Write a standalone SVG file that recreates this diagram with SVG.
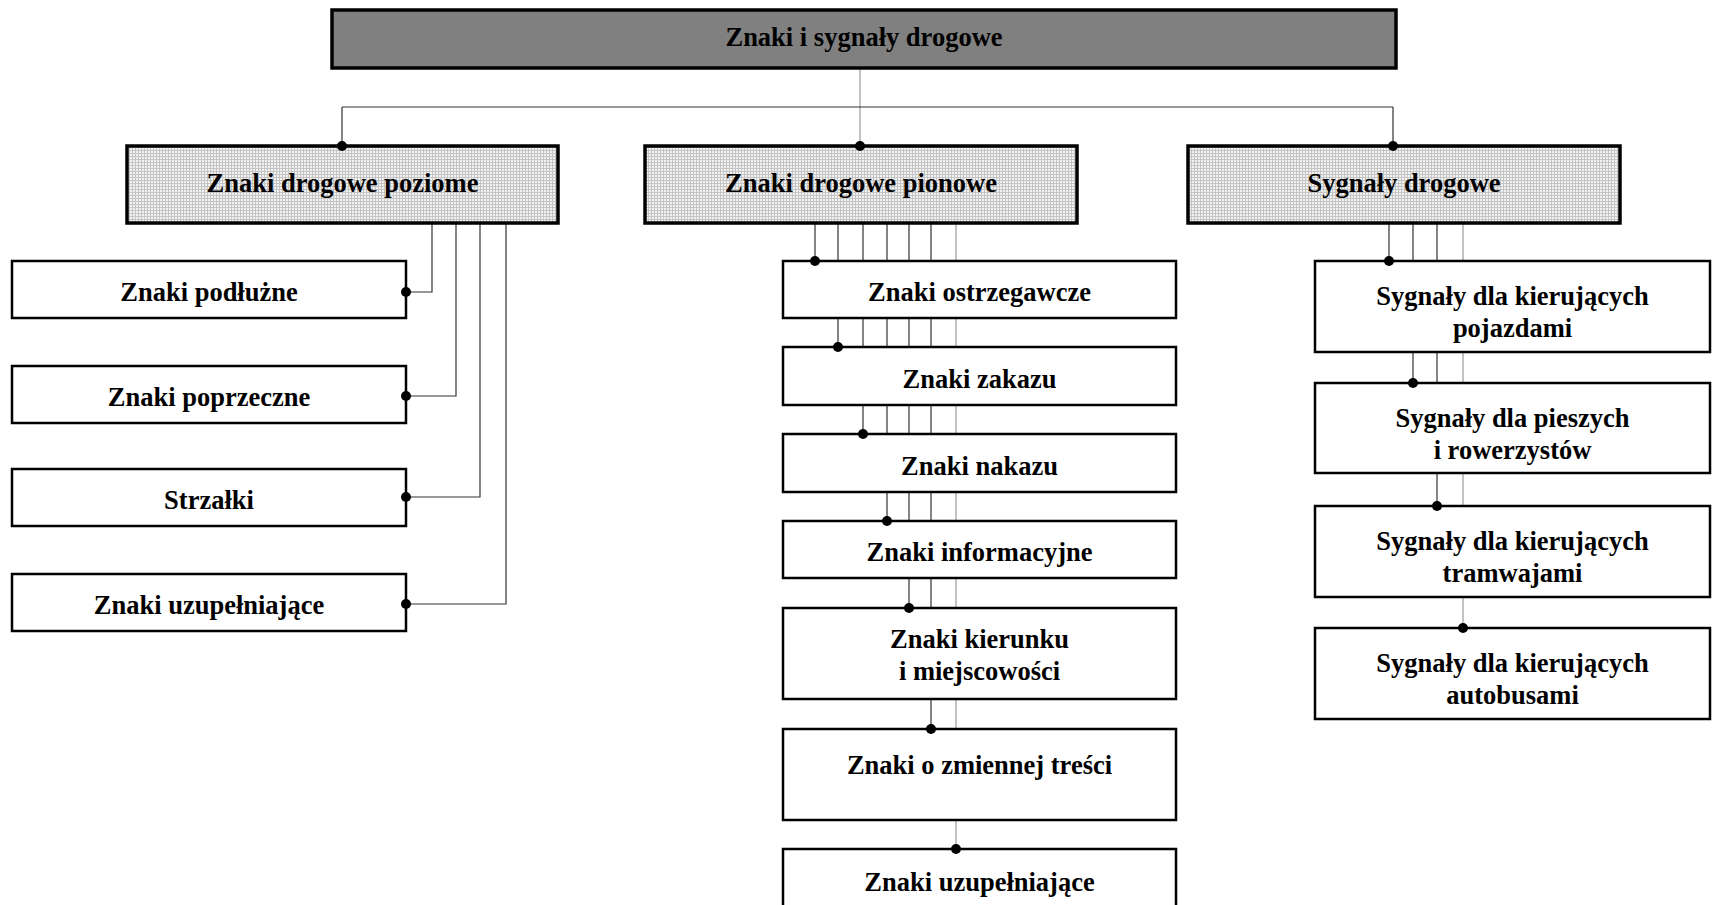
<svg xmlns="http://www.w3.org/2000/svg" width="1716" height="905" viewBox="0 0 1716 905">
<style>
text{font-family:"Liberation Serif","Times New Roman",serif;font-weight:bold;font-size:26.5px;fill:#000;text-anchor:middle}
.root{fill:#808080;stroke:#000;stroke-width:3.5}
.l2{fill:url(#grid);stroke:#000;stroke-width:3.5}
.box{fill:#fff;stroke:#000;stroke-width:2.5}
.ln{fill:none;stroke:#333;stroke-width:1.2}
.lg{fill:none;stroke:#999;stroke-width:1.2}
.dot{fill:#000}
</style>
<defs>
<pattern id="grid" width="3" height="3" patternUnits="userSpaceOnUse">
<rect width="3" height="3" fill="#f2f2f2"/>
<path d="M0 0.5H3M0.5 0V3" stroke="#c4c4c4" stroke-width="1"/>
</pattern>
</defs>
<g id="connectors">
<path class="lg" d="M860 68V146"/>
<path class="ln" d="M342 107H1393M342 107V146M1393 107V146"/>
<path class="ln" d="M432 223V292H406"/>
<path class="ln" d="M456 223V396H406"/>
<path class="ln" d="M480 223V497H406"/>
<path class="ln" d="M506 223V604H406"/>
<path class="ln" d="M815 223V261"/>
<path class="ln" d="M838 223V347"/>
<path class="ln" d="M863 223V434"/>
<path class="ln" d="M887 223V521"/>
<path class="ln" d="M909 223V608"/>
<path class="ln" d="M931 223V729"/>
<path class="lg" d="M956 223V849"/>
<path class="ln" d="M1389 223V261"/>
<path class="ln" d="M1413 223V383"/>
<path class="ln" d="M1437 223V506"/>
<path class="lg" d="M1463 223V628"/>
</g>
<g id="root"><rect class="root" x="332" y="10" width="1064" height="58"/><text x="864" y="46">Znaki i sygnały drogowe</text></g>
<g id="poziome"><rect class="l2" x="127" y="146" width="431" height="77"/><text x="342.5" y="192">Znaki drogowe poziome</text><circle class="dot" cx="342" cy="146" r="5"/></g>
<g id="pionowe"><rect class="l2" x="645" y="146" width="432" height="77"/><text x="861" y="192">Znaki drogowe pionowe</text><circle class="dot" cx="860" cy="146" r="5"/></g>
<g id="sygnaly"><rect class="l2" x="1188" y="146" width="432" height="77"/><text x="1404" y="192">Sygnały drogowe</text><circle class="dot" cx="1393" cy="146" r="5"/></g>
<g id="podluzne"><rect class="box" x="12" y="261" width="394" height="57"/><text x="209" y="301">Znaki podłużne</text><circle class="dot" cx="406" cy="292" r="5"/></g>
<g id="poprzeczne"><rect class="box" x="12" y="366" width="394" height="57"/><text x="209" y="406">Znaki poprzeczne</text><circle class="dot" cx="406" cy="396" r="5"/></g>
<g id="strzalki"><rect class="box" x="12" y="469" width="394" height="57"/><text x="209" y="509">Strzałki</text><circle class="dot" cx="406" cy="497" r="5"/></g>
<g id="uzup-poz"><rect class="box" x="12" y="574" width="394" height="57"/><text x="209" y="614">Znaki uzupełniające</text><circle class="dot" cx="406" cy="604" r="5"/></g>
<g id="ostrzegawcze"><rect class="box" x="783" y="261" width="393" height="57"/><text x="979.5" y="301">Znaki ostrzegawcze</text><circle class="dot" cx="815" cy="261" r="5"/></g>
<g id="zakazu"><rect class="box" x="783" y="347" width="393" height="58"/><text x="979.5" y="388">Znaki zakazu</text><circle class="dot" cx="838" cy="347" r="5"/></g>
<g id="nakazu"><rect class="box" x="783" y="434" width="393" height="58"/><text x="979.5" y="475">Znaki nakazu</text><circle class="dot" cx="863" cy="434" r="5"/></g>
<g id="informacyjne"><rect class="box" x="783" y="521" width="393" height="57"/><text x="979.5" y="561">Znaki informacyjne</text><circle class="dot" cx="887" cy="521" r="5"/></g>
<g id="kierunku"><rect class="box" x="783" y="608" width="393" height="91"/><text x="979.5" y="648">Znaki kierunku</text><text x="979.5" y="680">i miejscowości</text><circle class="dot" cx="909" cy="608" r="5"/></g>
<g id="zmiennej"><rect class="box" x="783" y="729" width="393" height="91"/><text x="979.5" y="774">Znaki o zmiennej treści</text><circle class="dot" cx="931" cy="729" r="5"/></g>
<g id="uzup-pion"><rect class="box" x="783" y="849" width="393" height="62"/><text x="979.5" y="891">Znaki uzupełniające</text><circle class="dot" cx="956" cy="849" r="5"/></g>
<g id="pojazdami"><rect class="box" x="1315" y="261" width="395" height="91"/><text x="1512.5" y="305">Sygnały dla kierujących</text><text x="1512.5" y="337">pojazdami</text><circle class="dot" cx="1389" cy="261" r="5"/></g>
<g id="pieszych"><rect class="box" x="1315" y="383" width="395" height="90"/><text x="1512.5" y="427">Sygnały dla pieszych</text><text x="1512.5" y="459">i rowerzystów</text><circle class="dot" cx="1413" cy="383" r="5"/></g>
<g id="tramwajami"><rect class="box" x="1315" y="506" width="395" height="91"/><text x="1512.5" y="550">Sygnały dla kierujących</text><text x="1512.5" y="582">tramwajami</text><circle class="dot" cx="1437" cy="506" r="5"/></g>
<g id="autobusami"><rect class="box" x="1315" y="628" width="395" height="91"/><text x="1512.5" y="672">Sygnały dla kierujących</text><text x="1512.5" y="704">autobusami</text><circle class="dot" cx="1463" cy="628" r="5"/></g>
</svg>
